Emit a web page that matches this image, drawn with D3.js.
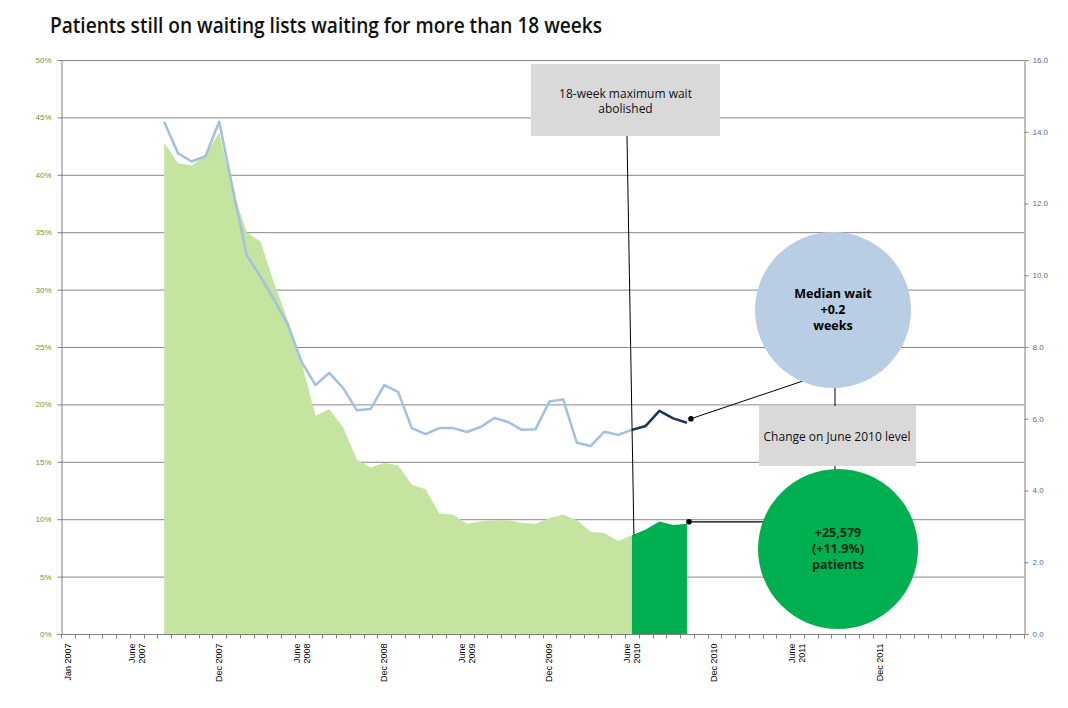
<!DOCTYPE html>
<html>
<head>
<meta charset="utf-8">
<script src="https://cdn.jsdelivr.net/npm/d3@7"></script>
<style>
  body { margin: 0; background: #fff; }
  svg { display: block; }
  .tick-l { font: 8px "Liberation Sans", Arial, sans-serif; fill: #76923c; }
  .tick-r { font: 8px "Liberation Sans", Arial, sans-serif; fill: #4f6f9a; }
  .tick-x { font: 9px "Liberation Sans", Arial, sans-serif; fill: #000; }
  .note { font: 12px "Open Sans", sans-serif; fill: #111; }
  .bubble { font: bold 12.5px "Open Sans", sans-serif; fill: #000; }
</style>
</head>
<body>
<script>
// share of waiting list over 18 weeks (%), Aug 2007 .. Oct 2010
var firstMonth = "Aug 2007";
var splitMonth = "Jun 2010";
var pctOver18 = [42.8, 41.0, 40.8, 41.7, 43.7, 38.5, 35.0, 34.2, 30.5, 27.3,
                 23.6, 19.0, 19.6, 18.0, 15.2, 14.5, 14.9, 14.7, 13.0, 12.6,
                 10.5, 10.4, 9.6, 9.8, 9.9, 9.9, 9.7, 9.6, 10.1, 10.4,
                 9.9, 8.9, 8.8, 8.1, 8.6, 9.1, 9.8, 9.5, 9.6];
// median wait (weeks), same months
var medianWait = [14.28, 13.40, 13.17, 13.32, 14.28, 12.38, 10.56, 9.96, 9.31, 8.61,
                  7.58, 6.94, 7.28, 6.86, 6.24, 6.27, 6.94, 6.75, 5.74, 5.57,
                  5.74, 5.74, 5.63, 5.77, 6.02, 5.91, 5.69, 5.71, 6.48, 6.54,
                  5.33, 5.24, 5.64, 5.55, 5.69, 5.80, 6.22, 6.01, 5.89];

var leftTicks = [0, 5, 10, 15, 20, 25, 30, 35, 40, 45, 50];
var rightTicks = [0, 2, 4, 6, 8, 10, 12, 14, 16];
var xLabels = [
  {month: "Jan 2007", lines: ["Jan 2007"]},
  {month: "Jun 2007", lines: ["June", "2007"]},
  {month: "Dec 2007", lines: ["Dec 2007"]},
  {month: "Jun 2008", lines: ["June", "2008"]},
  {month: "Dec 2008", lines: ["Dec 2008"]},
  {month: "Jun 2009", lines: ["June", "2009"]},
  {month: "Dec 2009", lines: ["Dec 2009"]},
  {month: "Jun 2010", lines: ["June", "2010"]},
  {month: "Dec 2010", lines: ["Dec 2010"]},
  {month: "Jun 2011", lines: ["June", "2011"]},
  {month: "Dec 2011", lines: ["Dec 2011"]}
];

var fmtMonth = d3.timeFormat("%b %Y");
var months = d3.timeMonth.range(new Date(2007, 0, 1), new Date(2012, 10, 1)).map(fmtMonth);

var W = 1068, H = 708;
var margin = {top: 60, right: 44, bottom: 74, left: 61};
var width = W - margin.left - margin.right,
    height = H - margin.top - margin.bottom;

var svg = d3.select("body").append("svg")
    .attr("width", W)
    .attr("height", H);

svg.append("text")
    .attr("x", 50).attr("y", 33)
    .attr("textLength", 552).attr("lengthAdjust", "spacingAndGlyphs")
    .style("font", "600 21px 'Open Sans', sans-serif")
    .style("fill", "#111")
    .text("Patients still on waiting lists waiting for more than 18 weeks");

var g = svg.append("g")
    .attr("transform", "translate(" + margin.left + "," + margin.top + ")");

var x = d3.scaleBand().domain(months).range([0, width]).padding(0);
var y = d3.scaleLinear().domain([0, 50]).range([height, 0]);
var y2 = d3.scaleLinear().domain([0, 16]).range([height, 0]);

var start = months.indexOf(firstMonth);
var data = pctOver18.map(function(v, i) {
  return {month: months[start + i], pct: v, wait: medianWait[i]};
});
var split = data.findIndex(function(d) { return d.month === splitMonth; });
var before = data.slice(0, split + 1),
    after = data.slice(split);

function cx(d) { return x(d.month) + x.bandwidth() / 2; }

// gridlines
g.append("g").selectAll("line")
    .data(leftTicks.filter(function(t) { return t > 0; }))
  .enter().append("line")
    .attr("x1", 0).attr("x2", width)
    .attr("y1", function(d) { return y(d) + 0.5; })
    .attr("y2", function(d) { return y(d) + 0.5; })
    .attr("stroke", "#878787").attr("stroke-width", 1);

// areas
var area = d3.area().x(cx).y0(height).y1(function(d) { return y(d.pct); });
g.append("path").datum(before).attr("d", area).attr("fill", "#c4e4a0");
g.append("path").datum(after).attr("d", area).attr("fill", "#00af50");

// median wait lines
var line = d3.line().x(cx).y(function(d) { return y2(d.wait); });
g.append("path").datum(before).attr("d", line)
    .attr("fill", "none").attr("stroke", "#a3bfe2").attr("stroke-width", 2.5)
    .attr("stroke-linejoin", "round");
g.append("path").datum(after).attr("d", line)
    .attr("fill", "none").attr("stroke", "#17375e").attr("stroke-width", 2.5)
    .attr("stroke-linejoin", "round");

// axes
var axisL = d3.axisLeft(y).tickValues(leftTicks).tickSize(4).tickPadding(6)
    .tickFormat(function(d) { return d + "%"; });
var gl = g.append("g").attr("transform", "translate(0.5,0)").call(axisL);
gl.selectAll("text").attr("class", "tick-l").attr("dy", "0.3em");

var axisR = d3.axisRight(y2).tickValues(rightTicks).tickSize(4).tickPadding(4)
    .tickFormat(d3.format(".1f"));
var gr = g.append("g").attr("transform", "translate(" + (width + 0.5) + ",0)").call(axisR);
gr.selectAll("text").attr("class", "tick-r").attr("dy", "0.3em");

[gl, gr].forEach(function(a) {
  a.select(".domain").attr("stroke", "#808080");
  a.selectAll(".tick line").attr("stroke", "#808080");
  a.attr("font-family", null).attr("font-size", null);
});

// x axis: monthly ticks at category boundaries
var gx = g.append("g").attr("transform", "translate(0," + (height + 0.5) + ")");
gx.append("line").attr("x1", 0).attr("x2", width).attr("stroke", "#808080");
gx.selectAll("line.mt")
    .data(d3.range(months.length + 1))
  .enter().append("line").attr("class", "mt")
    .attr("x1", function(i) { return Math.round(i * x.step()) + 0.5; })
    .attr("x2", function(i) { return Math.round(i * x.step()) + 0.5; })
    .attr("y1", 0).attr("y2", 4)
    .attr("stroke", "#808080");

var lab = gx.selectAll("g.lab").data(xLabels).enter().append("g")
    .attr("transform", function(d) {
      return "translate(" + (x(d.month) + x.bandwidth() / 2) + ",9) rotate(-90)";
    });
lab.each(function(d) {
  var n = d.lines.length;
  d3.select(this).selectAll("text").data(d.lines).enter().append("text")
      .attr("class", "tick-x")
      .attr("text-anchor", "end")
      .attr("x", 0)
      .attr("y", function(t, i) { return (i - (n - 1) / 2) * 10 + 3; })
      .text(function(t) { return t; });
});

// annotations
var ann = svg.append("g");
var lastD = data[data.length - 1];
var splitD = data[split];
var px = function(d) { return margin.left + cx(d); };

// 18-week box
ann.append("line")
    .attr("x1", 627).attr("y1", 136)
    .attr("x2", px(splitD) + 2).attr("y2", margin.top + y(splitD.pct))
    .attr("stroke", "#000").attr("stroke-width", 1);
ann.append("rect").attr("x", 531).attr("y", 64).attr("width", 189).attr("height", 72)
    .attr("fill", "#d9d9d9");
ann.append("text").attr("class", "note").attr("text-anchor", "middle")
    .attr("x", 625.5).attr("y", 98).text("18-week maximum wait");
ann.append("text").attr("class", "note").attr("text-anchor", "middle")
    .attr("x", 625.5).attr("y", 113).text("abolished");

// connectors to the bubbles
var dotWait = [px(lastD) + 4, margin.top + y2(lastD.wait) - 4];
var dotPct = [px(lastD) + 2, margin.top + y(lastD.pct) - 2];
ann.append("line").attr("x1", dotWait[0]).attr("y1", dotWait[1])
    .attr("x2", 803).attr("y2", 381).attr("stroke", "#000");
ann.append("line").attr("x1", dotPct[0]).attr("y1", dotPct[1])
    .attr("x2", 765).attr("y2", dotPct[1]).attr("stroke", "#000").attr("stroke-width", 1.2);
ann.append("circle").attr("cx", dotWait[0]).attr("cy", dotWait[1]).attr("r", 2.8).attr("fill", "#000");
ann.append("circle").attr("cx", dotPct[0]).attr("cy", dotPct[1]).attr("r", 2.8).attr("fill", "#000");
ann.append("line").attr("x1", 835).attr("y1", 385).attr("x2", 835).attr("y2", 476).attr("stroke", "#000");

ann.append("circle").attr("cx", 833).attr("cy", 310).attr("r", 78).attr("fill", "#b9cde5");
ann.append("rect").attr("x", 759).attr("y", 406).attr("width", 157).attr("height", 60)
    .attr("fill", "#d9d9d9");
ann.append("text").attr("class", "note").attr("text-anchor", "middle")
    .attr("x", 837).attr("y", 441).text("Change on June 2010 level");
ann.append("circle").attr("cx", 838).attr("cy", 549).attr("r", 80).attr("fill", "#00b050");

[["Median wait", 298], ["+0.2", 314], ["weeks", 330]].forEach(function(t) {
  ann.append("text").attr("class", "bubble").attr("text-anchor", "middle")
      .attr("x", 833).attr("y", t[1]).text(t[0]);
});
[["+25,579", 537], ["(+11.9%)", 553], ["patients", 569]].forEach(function(t) {
  ann.append("text").attr("class", "bubble").attr("text-anchor", "middle")
      .style("fill", "#0b2a14")
      .attr("x", 838).attr("y", t[1]).text(t[0]);
});
</script>
</body>
</html>
